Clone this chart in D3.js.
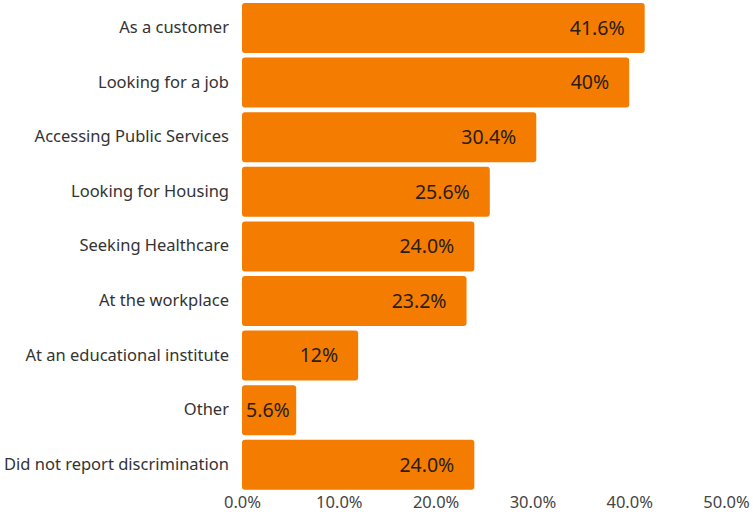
<!DOCTYPE html>
<html>
<head>
<meta charset="utf-8">
<script src="https://cdn.jsdelivr.net/npm/d3@7"></script>
<style>
  html, body { margin: 0; padding: 0; background: #fff; }
  svg { display: block; font-family: "Noto Sans", "Open Sans", sans-serif; }
</style>
</head>
<body>
<svg id="chart" width="753" height="517"></svg>
<script>
// Where respondents reported experiencing discrimination
const categories = [
  "As a customer",
  "Looking for a job",
  "Accessing Public Services",
  "Looking for Housing",
  "Seeking Healthcare",
  "At the workplace",
  "At an educational institute",
  "Other",
  "Did not report discrimination"
];
const values = [41.6, 40, 30.4, 25.6, 24.0, 23.2, 12, 5.6, 24.0];
const valueLabels = ["41.6%", "40%", "30.4%", "25.6%", "24.0%", "23.2%", "12%", "5.6%", "24.0%"];
const tickValues = [0, 10, 20, 30, 40, 50];
const tickLabels = ["0.0%", "10.0%", "20.0%", "30.0%", "40.0%", "50.0%"];

const svg = d3.select("#chart");
const barColor = "#F47C00";

const x = d3.scaleLinear().domain([0, 50]).range([242, 726]);
const y = d3.scaleBand()
  .domain(categories)
  .range([0.7, 492.1])
  .paddingInner(0.084)
  .paddingOuter(0.042);

const rows = categories.map((c, i) => ({ cat: c, value: values[i], label: valueLabels[i] }));

// Bars
svg.append("g").selectAll("rect")
  .data(rows)
  .join("rect")
  .attr("x", x(0))
  .attr("y", d => y(d.cat))
  .attr("width", d => x(d.value) - x(0))
  .attr("height", y.bandwidth())
  .attr("rx", 3)
  .attr("fill", barColor);

// Value labels inside the bars: right aligned near the bar end,
// or left aligned at the bar start when the bar is too short
const labelPad = 20;
const minEnd = 64;
svg.append("g").selectAll("text")
  .data(rows)
  .join("text")
  .attr("x", d => (x(d.value) - x(0) - labelPad < minEnd) ? x(0) + 4 : x(d.value) - labelPad)
  .attr("text-anchor", d => (x(d.value) - x(0) - labelPad < minEnd) ? "start" : "end")
  .attr("y", d => y(d.cat) + y.bandwidth() / 2)
  .attr("dy", "0.35em")
  .attr("font-size", 19.5)
  .attr("fill", "#2a1d12")
  .text(d => d.label);

// Category axis
const yAxis = d3.axisLeft(y).tickSize(0).tickPadding(13);
const gy = svg.append("g")
  .attr("transform", `translate(${x(0)},0)`)
  .call(yAxis);
gy.select(".domain").remove();
gy.selectAll("text")
  .attr("font-size", 16.5)
  .attr("dy", "0.3em")
  .attr("fill", "#333")
  .style("font-family", "'Noto Sans', 'Open Sans', sans-serif");

// Value axis
const xAxis = d3.axisBottom(x)
  .tickValues(tickValues)
  .tickSize(0)
  .tickPadding(0)
  .tickFormat((d, i) => tickLabels[i]);
const gx = svg.append("g")
  .attr("transform", "translate(0,496)")
  .call(xAxis);
gx.select(".domain").remove();
gx.selectAll("text")
  .attr("font-size", 16.5)
  .attr("fill", "#444")
  .style("font-family", "'Noto Sans', 'Open Sans', sans-serif");
</script>
</body>
</html>
